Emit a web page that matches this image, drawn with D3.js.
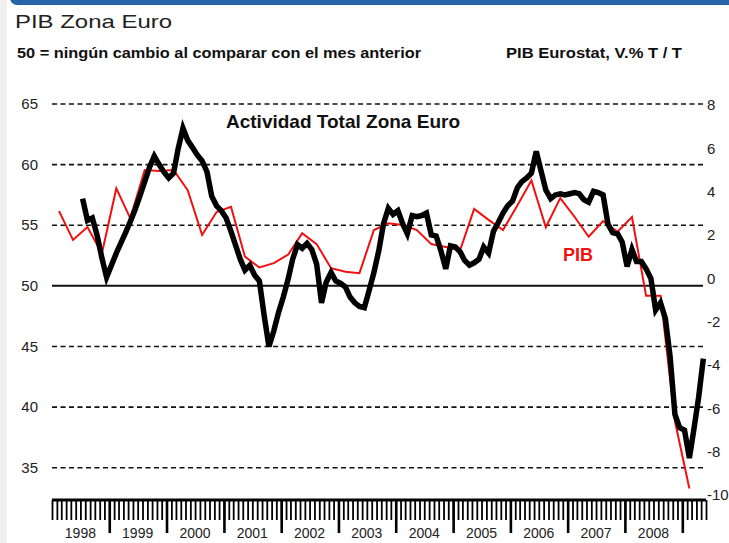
<!DOCTYPE html>
<html>
<head>
<meta charset="utf-8">
<script src="https://cdn.jsdelivr.net/npm/d3@7"></script>
<style>
  body { margin:0; background:#fff; }
  text { font-family:"Liberation Sans", Arial, sans-serif; }
</style>
</head>
<body>
<div id="chart"></div>
<script>
// Composite activity index (left axis), monthly from Jul 1998
const pmiStart = new Date(1998, 6, 15);
const pmiValues = [
  57.2, 55.4, 55.6, 54.2, 52.3, 50.7,
  51.7, 52.7, 53.5, 54.4, 55.3, 56.3, 57.4, 58.6, 59.8, 60.7, 60.0, 59.4,
  58.9, 59.3, 61.3, 63.0, 62.0, 61.4, 60.8, 60.3, 59.4, 57.4, 56.6, 56.2,
  55.6, 54.5, 53.4, 52.2, 51.3, 51.7, 50.9, 50.4, 47.5, 45.0, 46.3, 47.8,
  49.1, 50.6, 52.2, 53.4, 53.1, 53.5, 53.0, 51.8, 48.6, 50.3, 51.1, 50.4,
  50.2, 49.9, 49.1, 48.6, 48.3, 48.2, 49.6, 51.1, 52.9, 55.1, 56.4, 55.9,
  56.2, 55.1, 54.3, 55.8, 55.7, 55.8, 56.0, 54.2, 54.1, 52.9, 51.4, 53.3,
  53.2, 52.8, 52.1, 51.7, 51.9, 52.2, 53.2, 52.7, 54.5, 55.2, 56.0, 56.6,
  57.0, 58.1, 58.6, 58.9, 59.3, 61.1, 59.5, 57.9, 57.2, 57.5, 57.6, 57.5,
  57.6, 57.7, 57.6, 57.1, 56.9, 57.8, 57.7, 57.5, 55.1, 54.4, 54.3, 53.6,
  51.6, 53.0, 52.0, 52.0, 51.4, 50.6, 48.0, 48.6, 47.3, 44.2, 39.4, 38.3,
  38.1, 35.8, 38.1, 40.8, 44.0
];

// PIB Eurostat, quarterly from 1998 Q1 (right axis)
const pibStart = new Date(1998, 1, 15);
const pibValues = [
  3.1, 1.77, 2.37, 1.15,
  4.15, 2.77, 5.0, 4.95,
  5.0, 4.07, 2.0, 3.06,
  3.3, 1.0, 0.5, 0.7,
  1.1, 2.08, 1.58, 0.47,
  0.3, 0.24, 2.23, 2.54,
  2.46, 2.23, 1.58, 1.45,
  1.3, 3.2, 2.7, 2.23,
  3.37, 4.52, 2.36, 3.7,
  2.83, 1.92, 2.64, 2.15,
  2.83, -0.8, -0.8, -6.6, -9.7
];

const leftTicks = [35, 40, 45, 50, 55, 60, 65];
const rightTicks = [-10, -8, -6, -4, -2, 0, 2, 4, 6, 8];
const years = d3.range(1998, 2009);

const pmi = pmiValues.map((v, i) => ({date: d3.timeMonth.offset(pmiStart, i), value: v}));
const pib = pibValues.map((v, i) => ({date: d3.timeMonth.offset(pibStart, i * 3), value: v}));

const W = 729, H = 543;
const svg = d3.select('#chart').append('svg')
  .attr('width', W)
  .attr('height', H);

// page frame
svg.append('rect').attr('x', 0).attr('y', 0).attr('width', 7).attr('height', H).attr('fill', '#efefef');
svg.append('rect').attr('x', 10).attr('y', -12).attr('width', W).attr('height', 17)
  .attr('rx', 7).attr('fill', '#2a64a8');

// scales
const x = d3.scaleTime()
  .domain([new Date(1998, 0, 1), new Date(2009, 5, 1)])
  .range([52, 706]);
const yL = d3.scaleLinear().domain([35, 65]).range([467.7, 104]);
const yR = d3.scaleLinear().domain([-10, 8]).range([495, 105]);

// grid
svg.append('g').selectAll('line').data(leftTicks).enter().append('line')
  .attr('x1', 52)
  .attr('x2', 703)
  .attr('y1', d => yL(d))
  .attr('y2', d => yL(d))
  .attr('stroke', '#111')
  .attr('stroke-width', d => d === 50 ? 2 : 1.6)
  .attr('stroke-dasharray', d => d === 50 ? null : '5,3.5');

// left labels
svg.append('g').selectAll('text').data(leftTicks).enter().append('text')
  .attr('x', 38)
  .attr('y', d => yL(d))
  .attr('dy', '0.35em')
  .attr('text-anchor', 'end')
  .attr('font-size', 15)
  .attr('fill', '#222')
  .text(d => d);

// right labels
svg.append('g').selectAll('text').data(rightTicks).enter().append('text')
  .attr('x', 707)
  .attr('y', d => yR(d))
  .attr('dy', '0.35em')
  .attr('font-size', 15)
  .attr('fill', '#222')
  .text(d => d);

// bottom axis: month ticks, year ticks, year labels
const axisY = 500;
const monthAxis = d3.axisBottom(x)
  .ticks(d3.timeMonth.every(1))
  .tickSize(20)
  .tickFormat('');
const gm = svg.append('g').attr('transform', `translate(0,${axisY})`).call(monthAxis);
gm.select('.domain').remove();
gm.selectAll('line').attr('stroke', '#000').attr('stroke-width', 1.8);

const yearAxis = d3.axisBottom(x)
  .ticks(d3.timeYear.every(1))
  .tickSize(33)
  .tickFormat('');
const gy = svg.append('g').attr('transform', `translate(0,${axisY})`).call(yearAxis);
gy.select('.domain').remove();
gy.selectAll('line').attr('stroke', '#000').attr('stroke-width', 2.6);
gy.selectAll('.tick').filter(d => d.getFullYear() === 1998).remove();

svg.append('line')
  .attr('x1', x.range()[0]).attr('x2', x.range()[1])
  .attr('y1', axisY).attr('y2', axisY)
  .attr('stroke', '#000').attr('stroke-width', 3);

svg.append('g').selectAll('text').data(years).enter().append('text')
  .attr('x', d => x(new Date(d, 6, 1)))
  .attr('y', 538)
  .attr('text-anchor', 'middle')
  .attr('font-size', 14)
  .attr('fill', '#222')
  .text(d => d);

// series
const pibLine = d3.line().x(d => x(d.date)).y(d => yR(d.value));
const pmiLine = d3.line().x(d => x(d.date)).y(d => yL(d.value));

svg.append('path').datum(pib)
  .attr('d', pibLine)
  .attr('fill', 'none')
  .attr('stroke', '#f01010')
  .attr('stroke-width', 2);

svg.append('path').datum(pmi)
  .attr('d', pmiLine)
  .attr('fill', 'none')
  .attr('stroke', '#000')
  .attr('stroke-width', 5.5)
  .attr('stroke-linejoin', 'miter');

// texts
svg.append('text').attr('x', 15).attr('y', 28)
  .attr('font-size', 19).attr('fill', '#222')
  .attr('textLength', 157).attr('lengthAdjust', 'spacingAndGlyphs')
  .text('PIB Zona Euro');
svg.append('text').attr('x', 17).attr('y', 58)
  .attr('font-size', 14).attr('font-weight', 'bold').attr('fill', '#111')
  .attr('textLength', 404).attr('lengthAdjust', 'spacingAndGlyphs')
  .text('50 = ningún cambio al comparar con el mes anterior');
svg.append('text').attr('x', 506).attr('y', 58)
  .attr('font-size', 14).attr('font-weight', 'bold').attr('fill', '#111')
  .attr('textLength', 176).attr('lengthAdjust', 'spacingAndGlyphs')
  .text('PIB Eurostat, V.% T / T');
svg.append('text').attr('x', 226).attr('y', 128)
  .attr('font-size', 19).attr('font-weight', 'bold').attr('fill', '#111')
  .text('Actividad Total Zona Euro');
svg.append('text').attr('x', 563).attr('y', 261)
  .attr('font-size', 18).attr('font-weight', 'bold').attr('fill', '#f01010')
  .text('PIB');
</script>
</body>
</html>
